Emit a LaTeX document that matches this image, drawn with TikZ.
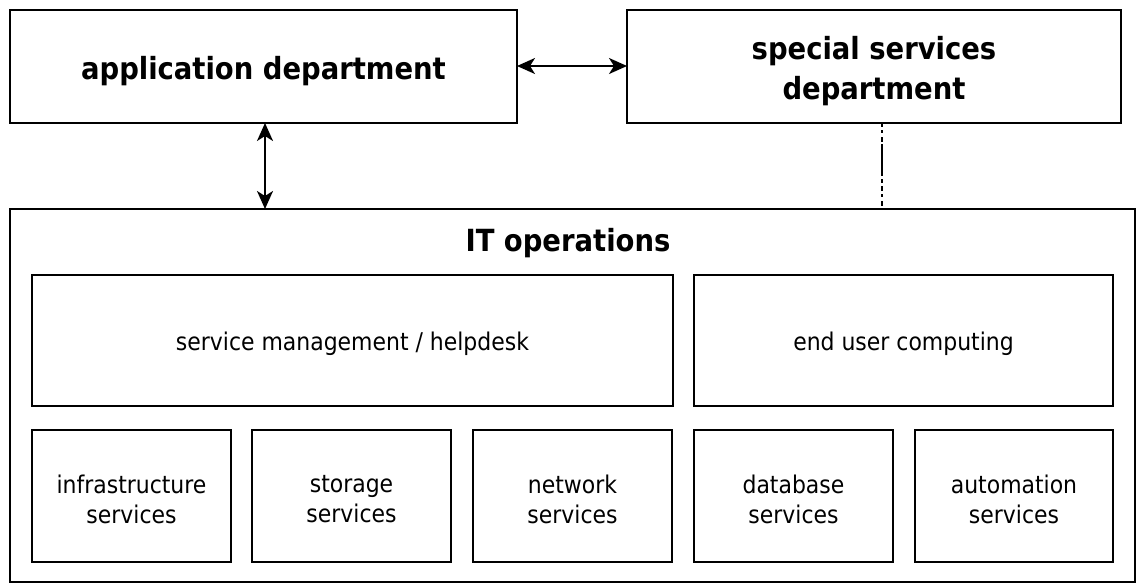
\documentclass[tikz,border=0pt]{standalone}
\usepackage{fontspec}
\setmainfont{DejaVu Sans Condensed}
\usetikzlibrary{arrows.meta}
\tikzset{
  box/.style={draw=black, line width=2.2pt, rectangle, inner sep=0pt, outer sep=0pt, anchor=north west},
  depttext/.style={align=center, inner sep=0pt, font=\fontsize{30.5}{40}\selectfont\bfseries, yshift=-5pt},
  unittext/.style={align=center, inner sep=0pt, font=\fontsize{24.4}{30}\selectfont, yshift=-3pt},
  dept/.style={box, label={[depttext]center:{#1}}},
  unit/.style={box, label={[unittext]center:{#1}}},
  tipshape/.tip={Stealth[length=18pt,width=16pt,inset=5pt]},
  link/.style={line width=2pt, tipshape-tipshape},
  loose/.style={line width=2.2pt, dash pattern=on 4pt off 3pt on 3pt off 4pt on 5pt off 2pt on 32pt off 3pt on 4pt off 3pt on 5pt off 3pt on 3pt off 4pt on 5pt}
}
\begin{document}
\begin{tikzpicture}[x=1pt, y=-1pt]
  \useasboundingbox (0,0) rectangle (1137,584);
  % departments
  \node[dept={application department}, minimum width=507pt, minimum height=113pt] (app) at (10,10) {};
  \node[dept={special services\\department}, minimum width=494pt, minimum height=113pt] (spec) at (627,10) {};
  % IT operations frame
  \node[box, minimum width=1125pt, minimum height=373pt] (itops) at (10,209) {};
  \node[font=\fontsize{30.5}{40}\selectfont\bfseries, inner sep=0pt] (title) at (568,243) {IT operations};
  % upper row
  \node[unit={service management / helpdesk}, minimum width=641pt, minimum height=131pt] (smh) at (32,275) {};
  \node[unit={end user computing}, minimum width=419pt, minimum height=131pt] (euc) at (694,275) {};
  % lower row
  \node[unit={infrastructure\\services}, minimum width=199pt, minimum height=132pt] (infra) at (32,430) {};
  \node[unit={storage\\services}, minimum width=199pt, minimum height=132pt] (stor) at (252,430) {};
  \node[unit={network\\services}, minimum width=199pt, minimum height=132pt] (net) at (473,430) {};
  \node[unit={database\\services}, minimum width=199pt, minimum height=132pt] (db) at (694,430) {};
  \node[unit={automation\\services}, minimum width=198pt, minimum height=132pt] (auto) at (915,430) {};
  % connectors
  \draw[link] (app.east |- 0,66) -- (spec.west |- 0,66);
  \draw[link] (app.south -| 265,0) -- (itops.north -| 265,0);
  \draw[loose] (spec.south -| 882,0) -- (itops.north -| 882,0);
\end{tikzpicture}
\end{document}
